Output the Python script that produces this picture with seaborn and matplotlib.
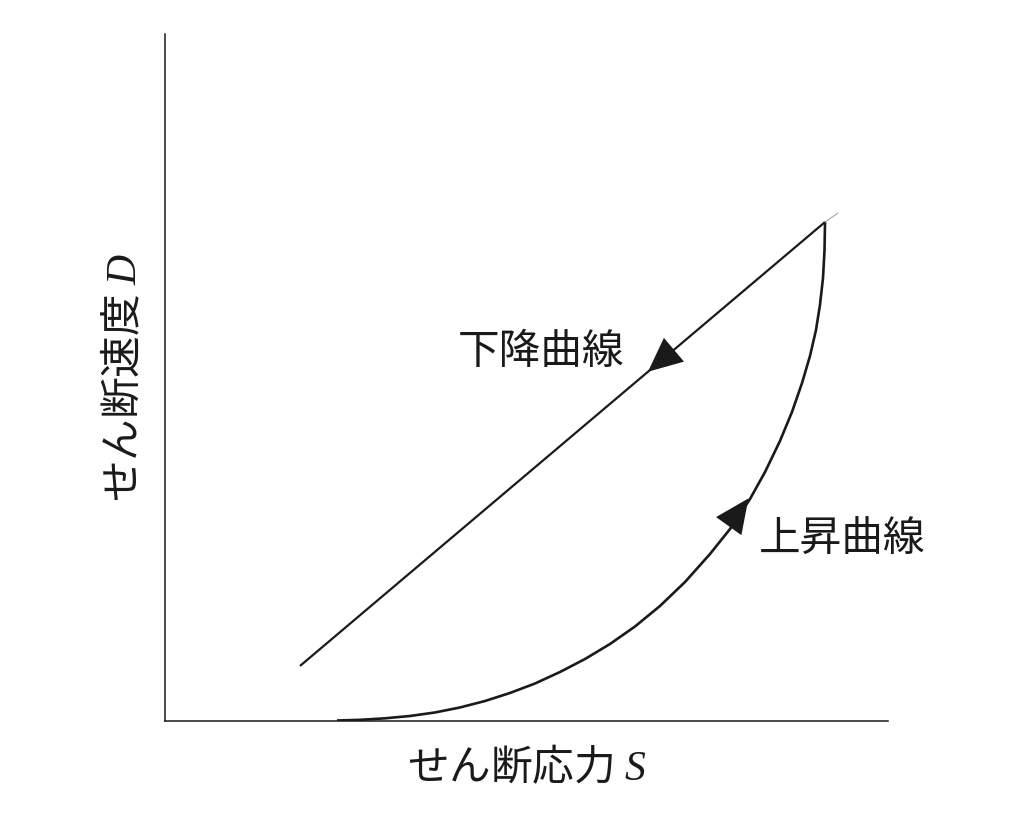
import numpy as np
import pandas as pd
import matplotlib
matplotlib.use("Agg")
import matplotlib.pyplot as plt
import seaborn as sns

# Ascending curve (上昇曲線)
up_x = [23.79, 26.97, 30.43, 33.89, 37.34, 40.80, 44.26, 47.72, 51.18, 54.63,
        58.09, 61.55, 65.01, 68.46, 71.92, 75.38, 78.15, 80.91, 82.99, 85.06,
        86.72, 88.11, 89.21, 90.04, 90.59, 91.01, 91.22, 91.29]
up_y = [0.07, 0.17, 0.39, 0.73, 1.24, 1.97, 2.91, 4.08, 5.46, 7.13,
        9.02, 11.21, 13.76, 16.74, 20.23, 24.31, 27.95, 32.31, 36.24, 40.76,
        44.98, 49.20, 53.13, 56.91, 60.55, 64.48, 68.56, 72.63]
# Descending line (下降曲線)
down_x = [91.29, 18.67]
down_y = [72.63, 8.01]
# Thin continuation of the line beyond the turning point
ext_x = [91.29, 93.08]
ext_y = [72.63, 73.94]

labels = {"down": "下降曲線", "up": "上昇曲線"}
xlabel = "せん断応力"
ylabel = "せん断速度"
xsym = "S"
ysym = "D"

sns.set_theme(style="white")
plt.rcParams["font.family"] = ["Noto Sans CJK JP", "DejaVu Sans"]
plt.rcParams["mathtext.fontset"] = "custom"
plt.rcParams["mathtext.it"] = "Liberation Serif:italic"
plt.rcParams["mathtext.rm"] = "Liberation Serif"

ink = "#1a1a1a"
fig = plt.figure(figsize=(10.12, 8.34), dpi=100)
ax = fig.add_axes([165 / 1012, 1 - 721 / 834, (888 - 165) / 1012, (721 - 34) / 834])

df_up = pd.DataFrame({"x": up_x, "y": up_y})
df_down = pd.DataFrame({"x": down_x, "y": down_y})
df_ext = pd.DataFrame({"x": ext_x, "y": ext_y})

sns.lineplot(data=df_up, x="x", y="y", sort=False, ax=ax, color=ink, lw=1.9,
             solid_capstyle="butt", solid_joinstyle="round")
sns.lineplot(data=df_down, x="x", y="y", sort=False, ax=ax, color=ink, lw=1.6,
             solid_capstyle="butt")
sns.lineplot(data=df_ext, x="x", y="y", sort=False, ax=ax, color="#999999", lw=0.7)

ax.set_xlim(0, 100)
ax.set_ylim(0, 100)

# Arrow heads
def head(tip, tail):
    ax.annotate("", xy=tip, xytext=tail,
                arrowprops=dict(arrowstyle="-|>,head_length=1.75,head_width=0.8",
                                mutation_scale=14, color=ink, lw=0,
                                shrinkA=0, shrinkB=0))

# on the descending line: points down-left
head((66.8, 50.84), (69.8, 53.51))
# on the ascending curve: points up-right
head((80.7, 32.4), (78.7, 29.45))

ax.text(52.0, 53.7, labels["down"], fontsize=30, ha="center", va="center", color=ink)
ax.text(93.6, 26.3, labels["up"], fontsize=30, ha="center", va="center", color=ink)

ax.set_xlabel(f"{xlabel} ${xsym}$", fontsize=30, color=ink, labelpad=18,
              family="Noto Sans CJK JP")
ax.set_ylabel(f"{ylabel} ${ysym}$", fontsize=30, color=ink, labelpad=14,
              family="Noto Sans CJK JP")

ax.set_xticks([])
ax.set_yticks([])
for s in ["top", "right"]:
    ax.spines[s].set_visible(False)
for s in ["left", "bottom"]:
    ax.spines[s].set_color(ink)
    ax.spines[s].set_linewidth(1.1)

fig.savefig("out.png", dpi=100, facecolor="white")
